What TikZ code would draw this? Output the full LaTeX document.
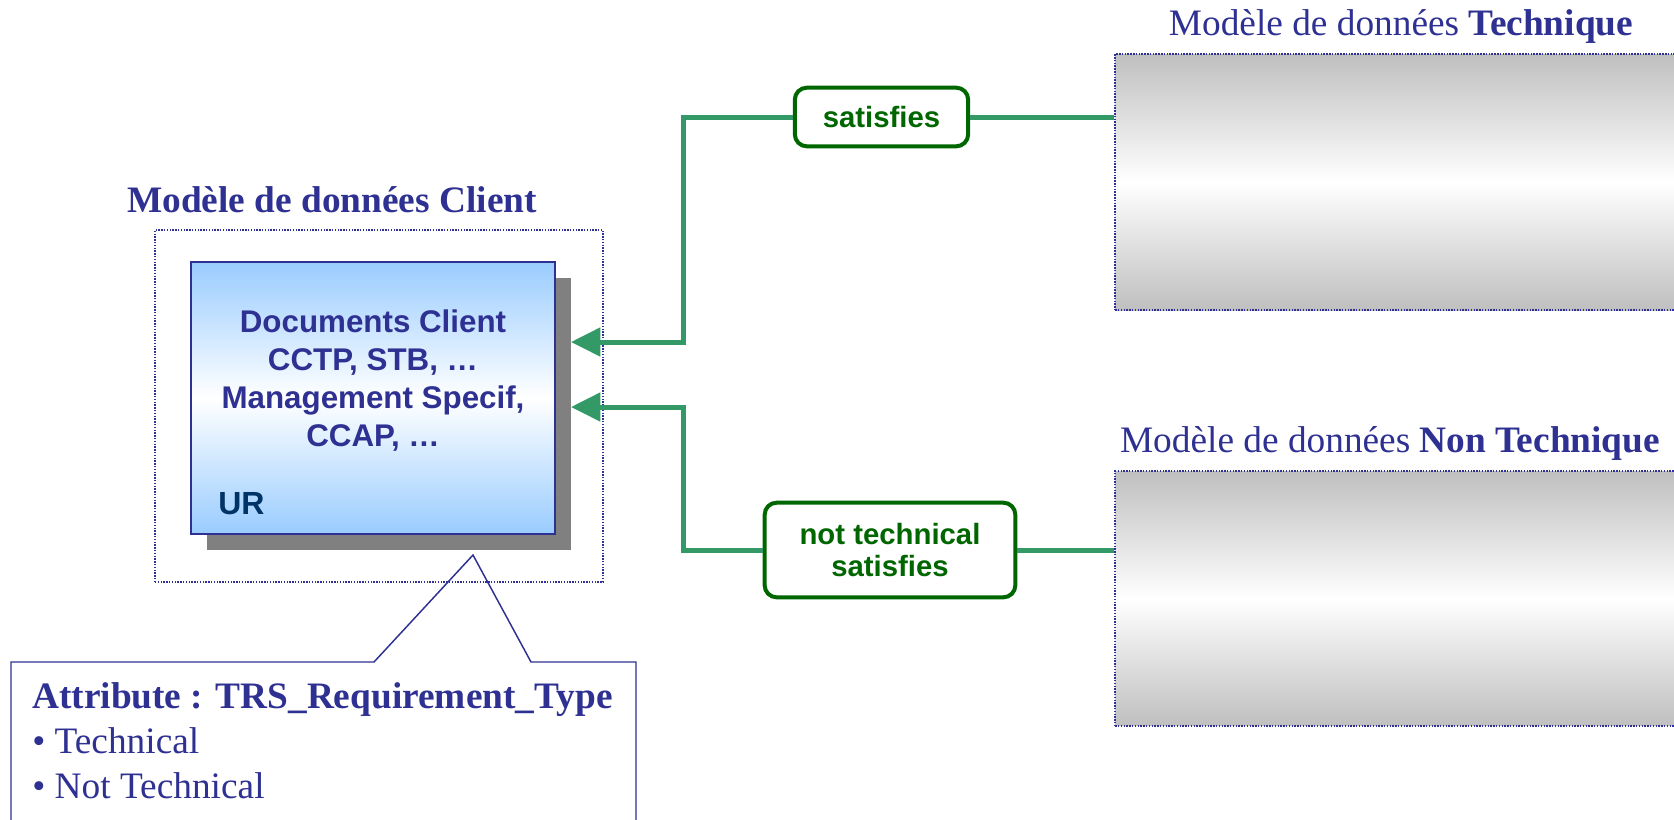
\documentclass[tikz,border=0pt]{standalone}
\usepackage{fontspec}
\setmainfont{Liberation Serif}
\setsansfont{Liberation Sans}
\usepackage{tikz}
\usetikzlibrary{arrows.meta}

\definecolor{navytxt}{RGB}{46,49,146}
\definecolor{linkgreen}{RGB}{51,153,102}
\definecolor{relgreen}{RGB}{0,102,0}
\definecolor{urblue}{RGB}{153,204,255}
\definecolor{urnavy}{RGB}{0,51,102}

\begin{document}
\begin{tikzpicture}[x=0.75pt,y=0.75pt,yscale=-1,xscale=1,
  title/.style={text=navytxt,font=\fontsize{28}{34}\selectfont,inner sep=0pt},
  dotbox/.style={draw=navytxt,densely dotted,line width=1.1pt,inner sep=0pt},
  greybox/.style={dotbox,top color=black!25,bottom color=black!25,middle color=white},
  relbox/.style={draw=relgreen,line width=3pt,rounded corners=9pt,fill=white,text=relgreen,
    font=\sffamily\bfseries\fontsize{22}{24}\selectfont,align=center,inner sep=0pt},
  link/.style={draw=linkgreen,line width=3.75pt},
  tip/.style={-{Triangle[length=22pt,width=21pt]}}]
\useasboundingbox (0,0) rectangle (1674,819);
\clip (0,0) rectangle (1674,819);

%Shape: Callout [id:attr] 
\draw [draw=navytxt,line width=1.1pt,fill=white] (11,662) -- (374,662) -- (473,555) -- (531,662) -- (636,662) -- (636,830) -- (11,830) -- cycle ;

%Shape: Rectangle [id:clientzone] 
\node [dotbox,minimum width=336pt,minimum height=264pt] (clientzone) at (379,406) {};
%Shape: Rectangle [id:urshadow] 
\node [fill=black!50,inner sep=0pt,minimum width=273pt,minimum height=204pt] (urshadow) at (389,414) {};
%Shape: Rectangle [id:urbox] 
\node [draw=navytxt,line width=1.1pt,inner sep=0pt,top color=urblue,bottom color=urblue,middle color=white,minimum width=273pt,minimum height=204pt] (urbox) at (373,398) {};

%Shape: Rectangle [id:techzone] 
\node [greybox,minimum width=431pt,minimum height=192pt] (techzone) at (1402.5,182) {};
%Shape: Rectangle [id:nontechzone] 
\node [greybox,minimum width=431pt,minimum height=191pt] (nontechzone) at (1402.5,598.5) {};

%Rounded Rect [id:satisfies] 
\node [relbox,minimum width=130pt,minimum height=44pt] (satisfies) at (881.5,117) {satisfies};
%Rounded Rect [id:notsatisfies] 
\node [relbox,minimum width=188pt,minimum height=71pt] (notsatisfies) at (890,550) {not technical\\satisfies};

\coordinate (topbend) at (683,342);
\coordinate (topin) at (571,342);
\coordinate (botbend) at (683,407);
\coordinate (botin) at (571,407);

%Straight Lines [id:toplink] 
\draw [link] (satisfies.east) -- (satisfies.east -| techzone.west) ;
\draw [link,tip] (satisfies.west) -| (topbend) -- (topin) ;
%Straight Lines [id:botlink] 
\draw [link] (notsatisfies.east) -- (notsatisfies.east -| nontechzone.west) ;
\draw [link,tip] (notsatisfies.west) -| (botbend) -- (botin) ;

% Text Node
\node [text=navytxt,font=\sffamily\bfseries\fontsize{23.5}{28.5}\selectfont,align=center] (urtext) at (373,381) {Documents Client\\CCTP, STB, …\\Management Specif,\\CCAP, …};
% Text Node
\node [anchor=base west,inner sep=0pt,text=urnavy,font=\sffamily\bfseries\fontsize{24}{28}\selectfont] (urlabel) at (218,514) {UR};
% Text Node
\node [title,anchor=base] (clienttitle) at (332,212) {\bfseries Modèle de données Client};
% Text Node
\node [title,anchor=base] (techtitle) at (1401,35) {Modèle de données \textbf{Technique}};
% Text Node
\node [title,anchor=base] (nontechtitle) at (1390,452) {Modèle de données \textbf{Non Technique}};
% Text Node
\node [title,anchor=base west] (attrhead) at (32,708) {\bfseries Attribute : TRS\_Requirement\_Type};
% Text Node
\node [title,anchor=base west] (attrtech) at (32,753) {• Technical};
% Text Node
\node [title,anchor=base west] (attrnottech) at (32,798) {• Not Technical};

\end{tikzpicture}
\end{document}
